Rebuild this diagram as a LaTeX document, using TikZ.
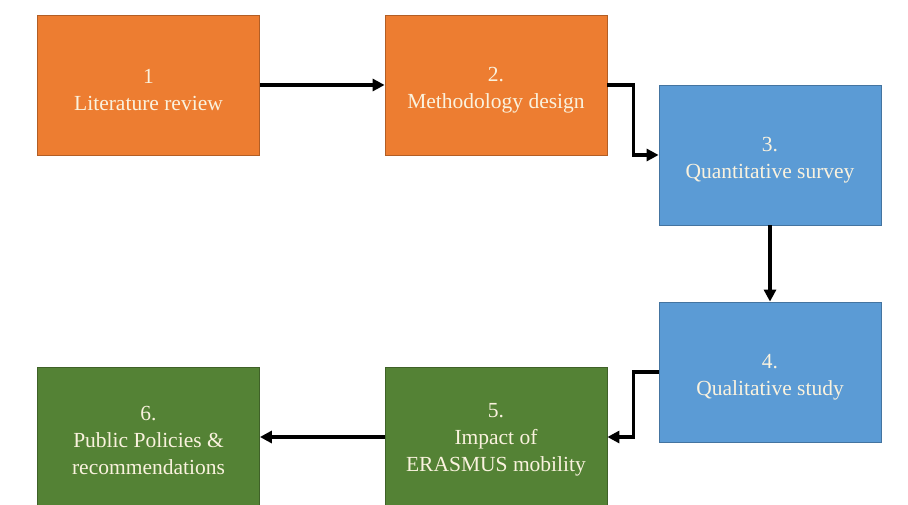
\documentclass[tikz,border=0pt]{standalone}
\usepackage{fontspec}
\setmainfont{Liberation Serif}
\usetikzlibrary{arrows.meta}
\definecolor{orangebox}{RGB}{237,125,49}
\definecolor{bluebox}{RGB}{91,155,213}
\definecolor{greenbox}{RGB}{84,130,53}
\definecolor{cream}{RGB}{250,242,222}
\tikzset{
  stepbox/.style={minimum width=222pt, minimum height=140pt, inner sep=0pt, line width=0.8pt},
  steptext/.style={text=cream, align=center, font=\fontsize{21.5}{27}\selectfont, yshift=-5pt, inner sep=0pt},
  orangestep/.style={stepbox, fill=orangebox, draw=orangebox!75!black},
  bluestep/.style={stepbox, fill=bluebox, draw=bluebox!75!black},
  greenstep/.style={stepbox, fill=greenbox, draw=greenbox!75!black},
  flow/.style={line width=3.2pt, -{Triangle[length=12pt,width=12pt]}}
}
\begin{document}
\begin{tikzpicture}[x=1pt,y=-1pt]
\useasboundingbox (0,0) rectangle (908,505);
\clip (0,0) rectangle (908,505);
\node[orangestep, label={[steptext]center:{1\\Literature review}}] (b1) at (148.5,85) {};
\node[orangestep, label={[steptext]center:{2.\\Methodology design}}] (b2) at (496,85) {};
\node[bluestep, label={[steptext]center:{3.\\Quantitative survey}}] (b3) at (770,155) {};
\node[bluestep, label={[steptext]center:{4.\\Qualitative study}}] (b4) at (770,372) {};
\node[greenstep, label={[steptext, yshift=2pt]center:{5.\\Impact of\\ERASMUS mobility}}] (b5) at (496,437) {};
\node[greenstep, label={[steptext, yshift=2pt]center:{6.\\Public Policies \&\\recommendations}}] (b6) at (148.5,437) {};
\draw[flow] (b1.east) -- (b2.west);
\draw[flow] (b2.east) -- ++(26,0) |- (b3.west);
\draw[flow] (b3.south) -- (b4.north);
\draw[flow] (b4.west) -- ++(-25,0) |- (b5.east);
\draw[flow] (b5.west) -- (b6.east);
\end{tikzpicture}
\end{document}
